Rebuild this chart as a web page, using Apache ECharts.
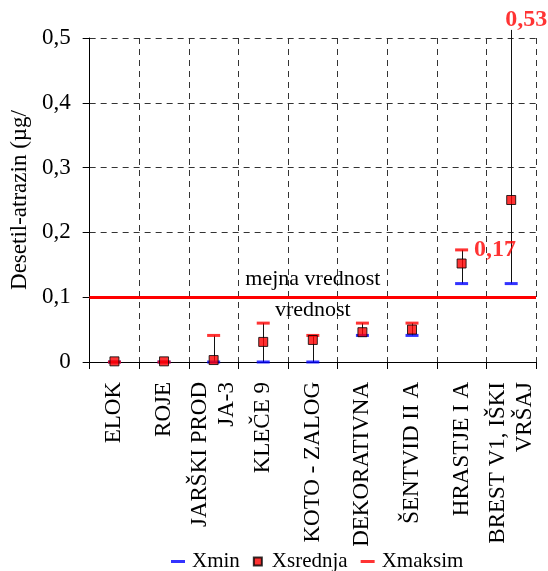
<!DOCTYPE html>
<html><head><meta charset="utf-8">
<script src="https://cdn.jsdelivr.net/npm/echarts@6/dist/echarts.min.js"></script>
<style>html,body{margin:0;padding:0;background:#fff}#c{width:548px;height:571px}</style>
</head><body><div id="c"></div>
<script>
// ---- data ----
const categories = ['ELOK', 'ROJE', 'JARŠKI PROD\nJA-3', 'KLEČE 9', 'KOTO - ZALOG', 'DEKORATIVNA', 'ŠENTVID II A', 'HRASTJE I A', 'BREST V1, IŠKI\nVRŠAJ'];
const xmin = [0, 0, 0, 0, 0, 0.041, 0.041, 0.121, 0.121];
const xsrednja = [0.001, 0.001, 0.003, 0.031, 0.034, 0.046, 0.05, 0.152, 0.25];
const xmaksim = [0, 0, 0.041, 0.06, 0.041, 0.06, 0.06, 0.173, 0.53];
const limitValue = 0.1;
const limitLabels = ['mejna vrednost', 'vrednost'];
const yMin = 0, yMax = 0.5, yStep = 0.1;
const yName = 'Desetil-atrazin (µg/';

const FONT = "'Liberation Serif','Times New Roman',serif";
const fmt = v => String(+(+v).toFixed(2)).replace('.', ',');

const maxData = xmaksim.map(v => {
  const item = { value: v };
  if (v > limitValue) {
    item.label = {
      show: true, formatter: p => fmt(p.value), color: '#ff0000', fontWeight: 'bold',
      fontSize: 24, fontFamily: FONT, position: 'right', distance: 6
    };
    if (v > yMax) {
      item.itemStyle = { color: 'rgba(0,0,0,0)' };
      item.label.position = 'inside';
      item.label.offset = [15, 1];
    }
  }
  return item;
});

const chart = echarts.init(document.getElementById('c'), null, { renderer: 'canvas' });
chart.setOption({
  animation: false,
  backgroundColor: '#fff',
  grid: { left: 89, right: 12, top: 38, bottom: 209 },
  legend: {
    left: 166, top: 546, itemGap: 13, itemWidth: 14, itemHeight: 8,
    textStyle: { fontFamily: FONT, fontSize: 21, color: '#000', padding: [0, 0, 0, 2] },
    data: [
      { name: 'Xmin', icon: 'path://M0,0h14v3h-14z' },
      { name: 'Xsrednja', icon: 'path://M0,0h8v8h-8z' },
      { name: 'Xmaksim', icon: 'path://M0,0h14v3h-14z' }
    ]
  },
  xAxis: {
    type: 'category', data: categories, boundaryGap: true,
    axisLine: { lineStyle: { color: '#000', width: 1 } },
    axisTick: { show: true, length: 7, lineStyle: { color: '#000' } },
    splitLine: { show: true, lineStyle: { color: '#333', type: [6, 5], width: 1 } },
    axisLabel: { rotate: 90, interval: 0, margin: 20, fontFamily: FONT, fontSize: 23, lineHeight: 27, color: '#000' }
  },
  yAxis: {
    type: 'value', min: yMin, max: yMax, interval: yStep,
    name: yName, nameLocation: 'middle', nameGap: 57,
    nameTextStyle: { fontFamily: FONT, fontSize: 23, color: '#000' },
    axisLine: { show: true, lineStyle: { color: '#000', width: 1 } },
    axisTick: { show: true, length: 7, lineStyle: { color: '#000' } },
    splitLine: { show: true, lineStyle: { color: '#333', type: [6, 5], width: 1 } },
    axisLabel: { margin: 19, fontFamily: FONT, fontSize: 23, color: '#000', formatter: v => fmt(v) }
  },
  series: [
    {
      name: 'err', type: 'custom', z: 2, silent: true,
      data: categories.map((c, i) => [i, xmin[i], xmaksim[i]]),
      encode: { x: 0, y: [1, 2] },
      renderItem: (params, api) => {
        const i = api.value(0);
        const lo = api.coord([i, api.value(1)]);
        const hi = api.coord([i, api.value(2)]);
        const top = api.coord([i, yMax * 1.025])[1];
        const x = Math.round(lo[0]) + 0.5;
        return { type: 'line', shape: { x1: x, y1: lo[1], x2: x, y2: Math.max(hi[1], top) },
                 style: { stroke: '#111', lineWidth: 1 } };
      },
      markLine: {
        silent: true, symbol: 'none',
        lineStyle: { color: '#ff0000', width: 3, type: 'solid' },
        label: { fontFamily: FONT, fontSize: 22, color: '#000' },
        data: [
          { yAxis: limitValue, label: { formatter: limitLabels[0], position: 'insideMiddleTop', distance: 7 } },
          { yAxis: limitValue, label: { formatter: limitLabels[1], position: 'insideMiddleBottom', distance: 2 } }
        ]
      }
    },
    {
      name: 'Xmin', type: 'scatter', z: 3, symbol: 'rect', symbolSize: [13, 3],
      itemStyle: { color: '#0000ff' }, data: xmin
    },
    {
      name: 'Xmaksim', type: 'scatter', z: 3, symbol: 'rect', symbolSize: [13, 3], clip: false,
      itemStyle: { color: '#ff0000' }, data: maxData
    },
    {
      name: 'Xsrednja', type: 'scatter', z: 4, symbol: 'rect', symbolSize: 9,
      itemStyle: { color: '#ff0000', borderColor: '#000', borderWidth: 1 }, data: xsrednja
    }
  ]
});
</script></body></html>
